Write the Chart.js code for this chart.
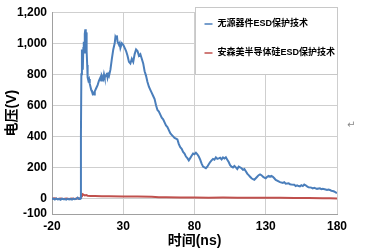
<!DOCTYPE html>
<html>
<head>
<meta charset="utf-8">
<script src="https://cdn.jsdelivr.net/npm/chart.js@4/dist/chart.umd.min.js"></script>
<style>
html,body{margin:0;padding:0;background:#fff;}
#wrap{position:relative;width:381px;height:251px;}
#mark{position:absolute;left:347px;top:119px;font:10px 'DejaVu Sans';color:#888;}
</style>
</head>
<body>
<div id="wrap"><canvas id="c" width="381" height="251"></canvas><div id="mark">↵</div></div>
<script>
const seriesNames = ['无源器件ESD保护技术', '安森美半导体硅ESD保护技术'];
const xTicks = [-20, 30, 80, 130, 180];
const yTicks = [-100, 0, 200, 400, 600, 800, 1000, 1200];

const blueT = [-20,-19,-18,-17,-16,-15,-14,-13,-12,-11,-10,-9,-8,-7,-6,-5,-4,-3,-2,-1,-0.5,0,
  0.3,0.6,1.0,1.3,1.6,2.0,2.3,2.7,3.0,3.4,3.7,4.0,4.3,4.7,5.0,5.5,6,6.5,7,7.5,8,8.5,9,9.5,10,11,12,13,14,14.5,15,16,16.5,17,18,18.5,19,19.5,20,
  21,22,23,24,24.5,25,25.5,26,27,27.5,28,29,30,31,32,33,34,35,36,37,38,39,40,41,42,43,44,45,46,47,48,49,50,
  51,52,53,54,55,56,57,58,59,60,61,62,63,64,65,66,67,68,69,70,71,72,73,74,75,76,77,78,79,80,
  81,82,83,84,85,86,87,88,89,90,91,92,93,94,95,96,97,98,99,100,101,102,103,104,105,106,107,108,109,110,
  111,112,113,114,115,116,117,118,119,120,121,122,123,124,125,126,127,128,129,130,131,132,133,134,135,136,137,138,139,140,
  142,143,144,146,147,148,150,151,152,153,154,155,156,157,158,159,160,162,163,164,166,168,169,170,172,173,174,175,176,177,178,179,180];
const blueV = [-4,-1,-7,0,-6,-3,-8,-1,-5,-4,-8,-2,-6,-3,-7,-1,-5,-3,5,-4,-1,2,
  400,800,960,900,830,970,1010,940,1060,1090,1020,1070,950,860,780,760,770,740,720,700,690,675,680,670,690,710,730,760,780,760,790,770,800,780,790,810,780,800,790,
  830,900,960,1000,1040,1030,1050,1010,990,1000,970,1000,990,970,950,920,880,870,900,880,930,960,950,920,930,900,870,820,790,750,720,700,680,
  660,640,600,570,560,540,520,510,490,470,460,440,420,410,400,390,385,380,350,330,320,300,290,270,260,245,260,275,290,285,
  295,285,270,250,225,205,200,195,205,220,235,245,255,250,265,255,258,262,252,265,258,265,250,235,215,205,200,210,200,190,
  205,200,195,185,190,175,160,150,140,130,125,120,130,140,150,155,150,140,135,130,140,145,140,145,140,130,120,115,110,105,
  100,105,95,98,92,90,88,80,85,80,78,85,80,90,85,78,72,70,65,68,62,65,60,62,58,55,58,55,50,48,45,40,35];

const redT = [-20,-18,-16,-14,-12,-10,-8,-6,-4,-2,-1,0,0.5,1,1.5,2,3,4,5,7,10,15,20,30,40,50,55,60,70,80,90,100,110,120,130,140,150,160,170,175,180];
const redV = [-2,1,-4,-1,-3,0,-4,-1,-3,2,-2,3,14,22,28,24,20,22,18,16,16,15,14,13,12,11,8,8,7,6,5,6,5,5,4,4,3,3,2,1,0];

const blueColor = '#4A7EBB';
const redColor = '#C0504D';

const toPts = (t, v) => t.map((x, i) => ({x: x, y: v[i]}));

const legendBox = {
  id: 'legendBox',
  afterDatasetsDraw(chart) {
    const ctx = chart.ctx;
    const xs = chart.scales.x, ys = chart.scales.y;
    const left = Math.round(xs.getPixelForValue(80)) + 0.5;
    const right = Math.round(chart.chartArea.right) + 0.5;
    const top = 7.5;
    const bottom = Math.round(ys.getPixelForValue(800)) + 0.5;
    ctx.save();
    ctx.fillStyle = '#fff';
    ctx.fillRect(left, top, right - left, bottom - top);
    ctx.strokeStyle = '#c8c8c8';
    ctx.lineWidth = 1;
    ctx.strokeRect(left, top, right - left, bottom - top);
    const items = [[seriesNames[0], blueColor, 24], [seriesNames[1], redColor, 53]];
    ctx.font = 'bold 9px "Liberation Sans", "Noto Sans CJK SC"';
    ctx.textBaseline = 'middle';
    ctx.textAlign = 'left';
    items.forEach(([txt, col, y]) => {
      ctx.strokeStyle = col;
      ctx.lineWidth = 1.5;
      ctx.beginPath();
      ctx.moveTo(left + 9, y);
      ctx.lineTo(left + 17, y);
      ctx.stroke();
      ctx.fillStyle = '#000';
      ctx.fillText(txt, left + 22, y);
    });
    ctx.restore();
  }
};

const tickFont = {family: '"Liberation Sans", Arial', size: 12, weight: 'bold'};
const titleFont = {family: '"Liberation Sans", "Noto Sans CJK SC"', size: 14, weight: 'bold'};

new Chart(document.getElementById('c'), {
  type: 'line',
  data: {
    datasets: [
      {label: seriesNames[0], data: toPts(blueT, blueV), borderColor: blueColor, borderWidth: 2, pointRadius: 0, tension: 0, fill: false},
      {label: seriesNames[1], data: toPts(redT, redV), borderColor: redColor, borderWidth: 2, pointRadius: 0, tension: 0, fill: false}
    ]
  },
  options: {
    responsive: false,
    animation: false,
    events: [],
    layout: {padding: {top: 9, right: 44, left: 0, bottom: 0}},
    plugins: {legend: {display: false}, tooltip: {enabled: false}},
    scales: {
      x: {
        type: 'linear', min: -20, max: 180,
        afterBuildTicks: s => { s.ticks = xTicks.map(v => ({value: v})); },
        afterFit: s => { s.height = 37; },
        grid: {color: '#cfcfcf', drawTicks: false},
        border: {color: '#a0a0a0'},
        ticks: {font: tickFont, color: '#000', padding: 5, maxRotation: 0, autoSkip: false},
        title: {display: true, text: '时间(ns)', font: titleFont, color: '#000', padding: {top: 0, bottom: 1}}
      },
      y: {
        type: 'linear', min: -100, max: 1200,
        afterBuildTicks: s => { s.ticks = yTicks.map(v => ({value: v})); },
        afterFit: s => { s.width = 52; },
        grid: {color: '#cfcfcf', drawTicks: false},
        border: {color: '#a0a0a0'},
        ticks: {font: tickFont, color: '#000', padding: 5, autoSkip: false,
          callback: v => v.toLocaleString('en-US')},
        title: {display: true, text: '电压(V)', font: titleFont, color: '#000', padding: {top: 4, bottom: 0}}
      }
    }
  },
  plugins: [legendBox]
});
</script>
</body>
</html>
